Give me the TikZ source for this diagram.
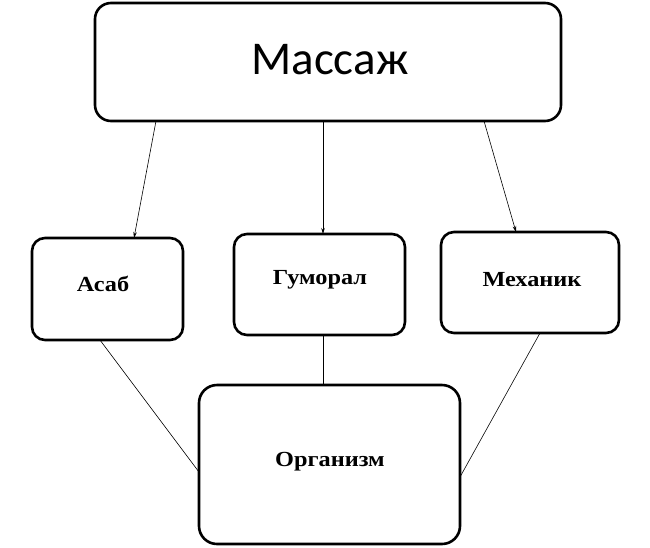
\documentclass[tikz,border=0pt]{standalone}
\usepackage{fontspec}
\setmainfont{Liberation Serif}
\newfontfamily\carl{Carlito}
\newfontfamily\lblfont{Liberation Serif}[FakeStretch=1.13]
\usetikzlibrary{arrows.meta}
\begin{document}
\begin{tikzpicture}[x=1pt,y=-1pt,
  box/.style={draw,rectangle,line width=2.6pt,rounded corners=13pt,inner sep=0pt,outer sep=0pt},
  lbl/.style={font=\lblfont\bfseries\fontsize{21.5}{24}\selectfont,inner sep=0pt},
  arr/.style={line width=0.6pt,-{Stealth[length=6pt,width=3.5pt]}},
  con/.style={line width=0.6pt}]
\useasboundingbox (0,0) rectangle (650,547);
\node[box,minimum width=466pt,minimum height=118pt,rounded corners=16pt] (m) at (328,62) {};
\node[inner sep=0pt,font=\carl\fontsize{47}{50}\selectfont] (mt) at (330,60) {Массаж};
\node[box,minimum width=151pt,minimum height=102pt] (a) at (107.5,289) {};
\node[lbl] (at) at (103,284) {Асаб};
\node[box,minimum width=171pt,minimum height=101pt] (g) at (319.5,284.5) {};
\node[lbl] (gt) at (320,280) {Гуморал};
\node[box,minimum width=178pt,minimum height=101pt] (h) at (530,282.5) {};
\node[lbl] (ht) at (532,280) {Механик};
\node[box,minimum width=261pt,minimum height=159pt,rounded corners=18pt] (o) at (329.5,464.5) {};
\node[lbl] (ot) at (330,462) {Организм};
\draw[arr] ([xshift=61pt]m.south west) -- ([xshift=102pt]a.north west);
\draw[arr] ([xshift=228pt]m.south west) -- ([xshift=89pt]g.north west);
\draw[arr] ([xshift=389pt]m.south west) -- ([xshift=75pt]h.north west);
\draw[con] ([xshift=68pt]a.south west) -- ([yshift=-87pt]o.north west);
\draw[con] ([xshift=89pt]g.south west) -- ([xshift=124pt]o.north west);
\draw[con] ([xshift=99pt]h.south west) -- ([yshift=-92pt]o.north east);
\end{tikzpicture}
\end{document}
